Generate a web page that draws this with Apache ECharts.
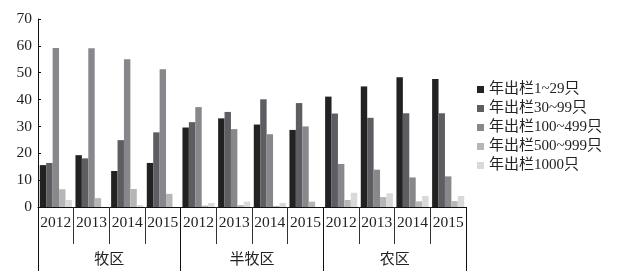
<!DOCTYPE html>
<html><head><meta charset="utf-8">
<script src="https://cdn.jsdelivr.net/npm/echarts@6/dist/echarts.min.js"></script>
<style>html,body{margin:0;padding:0;background:#fff}#c{width:617px;height:279px}</style>
</head><body><div id="c"></div>
<script>
const years = ['2012','2013','2014','2015','2012','2013','2014','2015','2012','2013','2014','2015'];
const regions = ['牧区','半牧区','农区'];
const seriesNames = ['年出栏1~29只','年出栏30~99只','年出栏100~499只','年出栏500~999只','年出栏1000只'];
const s1 = [15.6,19.3,13.4,16.4, 29.6,33.0,30.7,28.7, 41.1,44.9,48.3,47.7];
const s2 = [16.4,18.1,24.9,27.8, 31.6,35.4,40.1,38.7, 34.8,33.2,34.9,34.9];
const s3 = [59.2,59.1,55.0,51.3, 37.2,29.0,27.1,30.0, 16.0,13.9,11.0,11.4];
const s4 = [6.6,3.3,6.7,4.9, 0.5,0.7,0.4,2.0, 2.6,3.7,2.1,2.2];
const s5 = [2.6,0,0.7,0, 1.5,2.0,1.5,0, 5.3,5.1,4.1,4.1];
const colors = ['#222222','#5e5e62','#88888c','#b6b6b6','#d9d9d9'];
const serif = '"Liberation Serif","Noto Sans CJK SC",serif';
const chart = echarts.init(document.getElementById('c'));
const data = [s1,s2,s3,s4,s5];
chart.setOption({
  animation:false,
  color: colors,
  grid:{left:38,right:151,top:19,bottom:72},
  legend:{
    orient:'vertical', left:472, top:77, icon:'rect', itemWidth:7, itemHeight:7, itemGap:4,
    textStyle:{fontFamily:serif,fontSize:15,color:'#222'},
    data: seriesNames
  },
  xAxis:[
    {type:'category',data:years,position:'bottom',
     axisLine:{show:true,lineStyle:{color:'#111',width:1}},
     axisTick:{show:true,length:37,interval:0,lineStyle:{color:'#333'}},
     axisLabel:{interval:0,margin:8,fontFamily:serif,fontSize:15.5,color:'#222'}},
    {type:'category',data:regions,position:'bottom',
     axisLine:{show:false},
     axisTick:{show:true,length:64,interval:0,lineStyle:{color:'#111'}},
     axisLabel:{interval:0,margin:46,fontFamily:serif,fontSize:15,color:'#222'}}
  ],
  yAxis:{type:'value',min:0,max:70,interval:10,
    axisLine:{show:true,lineStyle:{color:'#111'}},
    axisTick:{show:true,inside:true,length:3,lineStyle:{color:'#111'}},
    splitLine:{show:false},
    axisLabel:{margin:6,fontFamily:serif,fontSize:15.5,color:'#222'}},
  series: seriesNames.map((n,i)=>({
    name:n,type:'bar',xAxisIndex:0,data:data[i],
    barGap:'0%',barCategoryGap:'10%',
    itemStyle:{color:colors[i]}
  }))
});
</script></body></html>
